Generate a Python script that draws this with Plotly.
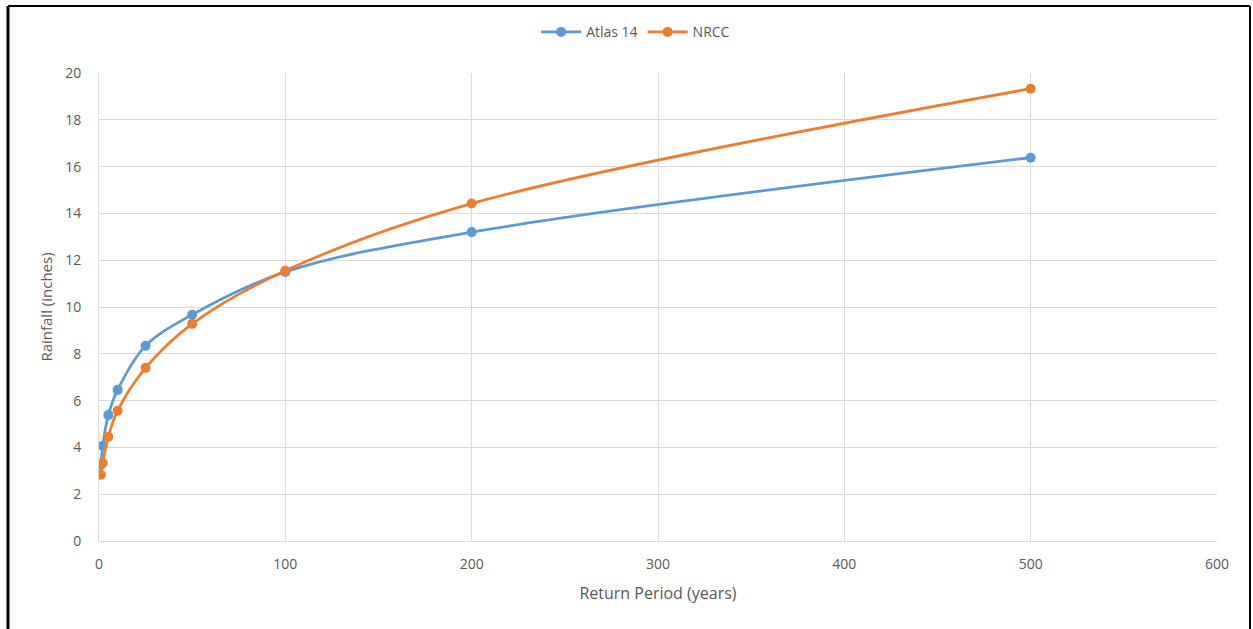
import plotly.graph_objects as go

# Return periods (years) and rainfall depths (inches)
return_period = [1, 2, 5, 10, 25, 50, 100, 200, 500]
atlas14 = [3.25, 4.07, 5.38, 6.46, 8.34, 9.67, 11.5, 13.2, 16.38]
nrcc = [2.83, 3.33, 4.46, 5.57, 7.4, 9.28, 11.55, 14.42, 19.33]

x_ticks = [0, 100, 200, 300, 400, 500, 600]
y_ticks = [0, 2, 4, 6, 8, 10, 12, 14, 16, 18, 20]

BLUE = "#5B9BD5"
ORANGE = "#ED7D31"
GRID = "#D9D9D9"
TEXT = "#595959"
FONT = "'Open Sans', sans-serif"

fig = go.Figure()
for name, vals, color in [("Atlas 14", atlas14, BLUE), ("NRCC", nrcc, ORANGE)]:
    fig.add_trace(go.Scatter(
        x=return_period, y=vals, name=name, mode="lines+markers",
        line=dict(color=color, width=2.75, shape="spline", smoothing=1.0),
        marker=dict(color=color, size=10),
    ))

fig.update_layout(
    width=1253, height=629,
    margin=dict(l=99, r=36, t=73, b=88),
    paper_bgcolor="white", plot_bgcolor="white",
    font=dict(family=FONT, color=TEXT, size=13),
    showlegend=True,
    legend=dict(orientation="h", x=0.48, xanchor="center", y=1.087, yanchor="middle",
                font=dict(size=14, color=TEXT), itemwidth=40),
    xaxis=dict(range=[0, 600], tickvals=x_ticks, showgrid=True, gridcolor=GRID, gridwidth=1,
               zeroline=False, showline=True, linecolor=GRID, linewidth=1, mirror=False,
               ticks="", tickfont=dict(size=14, color=TEXT), ticklabelstandoff=10,
               title=dict(text="Return Period (years)", font=dict(size=16, color=TEXT), standoff=16)),
    yaxis=dict(range=[0, 20], tickvals=y_ticks, showgrid=True, gridcolor=GRID, gridwidth=1,
               zeroline=False, showline=True, linecolor=GRID, linewidth=1,
               ticks="", tickfont=dict(size=14, color=TEXT), ticklabelstandoff=14,
               title=dict(text="Rainfall (inches)", font=dict(size=15, color=TEXT), standoff=8)),
)

# Outer frame: left, top and right edges
frame = dict(color="black", width=2)
fig.add_shape(type="line", xref="paper", yref="paper", x0=-0.0814, x1=-0.0814, y0=-0.2, y1=1.143,
              line=dict(color="black", width=3))
fig.add_shape(type="line", xref="paper", yref="paper", x0=-0.0814, x1=1.0295, y0=1.143, y1=1.143,
              line=frame)
fig.add_shape(type="line", xref="paper", yref="paper", x0=1.0295, x1=1.0295, y0=-0.2, y1=1.143,
              line=frame)

fig.write_html("out.html")
